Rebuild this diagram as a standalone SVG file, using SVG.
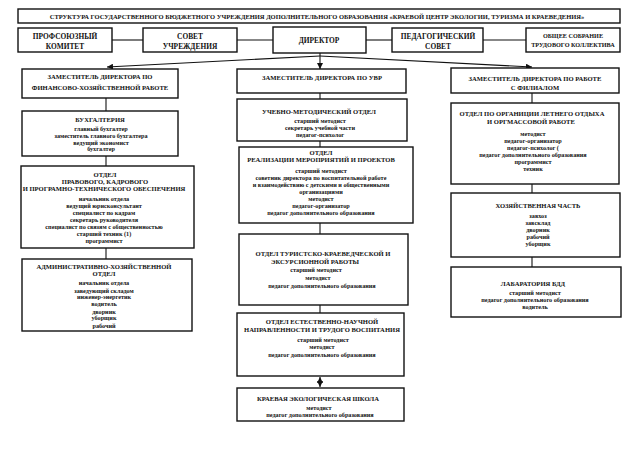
<svg xmlns="http://www.w3.org/2000/svg" width="640" height="453" viewBox="0 0 640 453">
<defs>
<style>
.b{fill:#fff;stroke:#111;stroke-width:1.4}
text{font-family:"Liberation Serif","Times New Roman",serif;font-weight:bold;fill:#111;text-anchor:middle}
.h{font-size:6.6px}
.s{font-size:6.2px}
.t{font-size:7.4px}
.c{stroke:#111;stroke-width:1.1;fill:none}
</style>
<marker id="a" markerUnits="userSpaceOnUse" markerWidth="7" markerHeight="6" refX="6" refY="3" orient="auto"><path d="M0,0 L6,3 L0,6 z" fill="#111"/></marker>
<marker id="as" markerUnits="userSpaceOnUse" markerWidth="7" markerHeight="6" refX="0" refY="3" orient="auto"><path d="M6,0 L0,3 L6,6 z" fill="#111"/></marker>
</defs>
<rect width="640" height="453" fill="#fff"/>
<g id="connectors">
<line class="c" x1="112" y1="40" x2="143" y2="40"/>
<line class="c" x1="237" y1="40" x2="273" y2="40"/>
<line class="c" x1="366" y1="40" x2="392" y2="40"/>
<line class="c" x1="483" y1="40" x2="526" y2="40"/>
<line class="c" x1="320" y1="53" x2="320" y2="69" marker-end="url(#a)"/>
<line class="c" x1="320" y1="56" x2="107" y2="67" marker-end="url(#a)"/>
<line class="c" x1="320" y1="56" x2="532" y2="67" marker-end="url(#a)"/>
<line class="c" x1="106" y1="98" x2="106" y2="111"/>
<line class="c" x1="106" y1="156" x2="106" y2="166"/>
<line class="c" x1="106" y1="248" x2="106" y2="259"/>
<line class="c" x1="320" y1="93" x2="320" y2="99"/>
<line class="c" x1="320" y1="141" x2="320" y2="147"/>
<line class="c" x1="320" y1="223" x2="320" y2="234"/>
<line class="c" x1="320" y1="305" x2="320" y2="313"/>
<line class="c" x1="320" y1="377" x2="320" y2="387" marker-start="url(#as)" marker-end="url(#a)"/>
<line class="c" x1="532" y1="93" x2="532" y2="103"/>
<line class="c" x1="532" y1="184" x2="532" y2="193"/>
<line class="c" x1="532" y1="257" x2="532" y2="267"/>
</g>
<g id="title">
<rect class="b" x="18" y="9" width="602" height="14"/>
<text x="317" y="18.5" style="font-size:6.5px">СТРУКТУРА ГОСУДАРСТВЕННОГО БЮДЖЕТНОГО УЧРЕЖДЕНИЯ ДОПОЛНИТЕЛЬНОГО ОБРАЗОВАНИЯ «КРАЕВОЙ ЦЕНТР ЭКОЛОГИИ, ТУРИЗМА И КРАЕВЕДЕНИЯ»</text>
</g>
<g id="prof">
<rect class="b" x="18" y="28" width="94" height="24"/>
<text class="t" x="65" y="38.5">ПРОФСОЮЗНЫЙ</text>
<text class="t" x="65" y="49">КОМИТЕТ</text>
</g>
<g id="sovet">
<rect class="b" x="143" y="28" width="94" height="24"/>
<text class="t" x="190" y="38.5">СОВЕТ</text>
<text class="t" x="190" y="48.5">УЧРЕЖДЕНИЯ</text>
</g>
<g id="director">
<rect class="b" x="273" y="27" width="93" height="26"/>
<text class="t" x="319" y="42.5">ДИРЕКТОР</text>
</g>
<g id="pedsovet">
<rect class="b" x="392" y="28" width="91" height="24"/>
<text class="t" x="438" y="38.5">ПЕДАГОГИЧЕСКИЙ</text>
<text class="t" x="438" y="49">СОВЕТ</text>
</g>
<g id="obshee">
<rect class="b" x="526" y="28" width="94" height="24"/>
<text x="573" y="38" style="font-size:6.2px">ОБЩЕЕ СОБРАНИЕ</text>
<text x="573" y="46.5" style="font-size:6.2px">ТРУДОВОГО КОЛЛЕКТИВА</text>
</g>
<g id="zamfin">
<rect class="b" x="22" y="69" width="156" height="29"/>
<text class="h" x="100" y="79">ЗАМЕСТИТЕЛЬ ДИРЕКТОРА ПО</text>
<text class="h" x="100" y="90">ФИНАНСОВО-ХОЗЯЙСТВЕННОЙ РАБОТЕ</text>
</g>
<g id="bukh">
<rect class="b" x="22" y="111" width="156" height="45"/>
<text class="h" x="100" y="122">БУХГАЛТЕРИЯ</text>
<text class="s" x="101" y="131">главный бухгалтер</text>
<text class="s" x="101" y="137.5">заместитель главного бухгалтера</text>
<text class="s" x="101" y="144.5">ведущий экономист</text>
<text class="s" x="101" y="151">бухгалтер</text>
</g>
<g id="pravo">
<rect class="b" x="21" y="166" width="173" height="82"/>
<text class="h" x="105" y="177">ОТДЕЛ</text>
<text class="h" x="105" y="184">ПРАВОВОГО, КАДРОВОГО</text>
<text class="h" x="104" y="191">И ПРОГРАМНО-ТЕХНИЧЕСКОГО ОБЕСПЕЧЕНИЯ</text>
<text class="s" x="104" y="201">начальник  отдела</text>
<text class="s" x="104" y="208">ведущий юрисконсультант</text>
<text class="s" x="104" y="215">специалист по кадрам</text>
<text class="s" x="104" y="221.5">секретарь руководителя</text>
<text class="s" x="104" y="229">специалист по связям с общественностью</text>
<text class="s" x="104" y="236">старший техник (1)</text>
<text class="s" x="104" y="243">программист</text>
</g>
<g id="admin">
<rect class="b" x="22" y="259" width="170" height="72"/>
<text class="h" x="104" y="269">АДМИНИСТРАТИВНО-ХОЗЯЙСТВЕННОЙ</text>
<text class="h" x="104" y="276">ОТДЕЛ</text>
<text class="s" x="104" y="285">начальник отдела</text>
<text class="s" x="104" y="292.5">заведующий складом</text>
<text class="s" x="104" y="299">инженер-энергетик</text>
<text class="s" x="104" y="306">водитель</text>
<text class="s" x="104" y="313.5">дворник</text>
<text class="s" x="104" y="320">уборщик</text>
<text class="s" x="104" y="327.5">рабочий</text>
</g>
<g id="uvr">
<rect class="b" x="237" y="69" width="169" height="24"/>
<text class="h" x="322" y="80">ЗАМЕСТИТЕЛЬ ДИРЕКТОРА ПО УВР</text>
</g>
<g id="ucheb">
<rect class="b" x="237" y="99" width="170" height="42"/>
<text class="h" x="319" y="114">УЧЕБНО-МЕТОДИЧЕСКИЙ ОТДЕЛ</text>
<text class="s" x="320" y="123">старший методист</text>
<text class="s" x="320" y="130">секретарь учебной части</text>
<text class="s" x="320" y="137">педагог-психолог</text>
</g>
<g id="realiz">
<rect class="b" x="239" y="147" width="174" height="76"/>
<text class="h" x="321" y="155">ОТДЕЛ</text>
<text class="h" x="321" y="162">РЕАЛИЗАЦИИ МЕРОПРИЯТИЙ И ПРОЕКТОВ</text>
<text class="s" x="321" y="173">старший методист</text>
<text class="s" x="321" y="180">советник директора по воспитательной работе</text>
<text class="s" x="321" y="186.5">и взаимодействию с детскими и общественными</text>
<text class="s" x="321" y="194">организациями</text>
<text class="s" x="321" y="200.5">методист</text>
<text class="s" x="321" y="208">педагог-организатор</text>
<text class="s" x="321" y="215">педагог дополнительного образования</text>
</g>
<g id="turist">
<rect class="b" x="239" y="234" width="169" height="71"/>
<text class="h" x="323" y="256">ОТДЕЛ ТУРИСТСКО-КРАЕВЕДЧЕСКОЙ И</text>
<text class="h" x="315" y="263.5">ЭКСУРСИОННОЙ РАБОТЫ</text>
<text class="s" x="316" y="272">старший методист</text>
<text class="s" x="318" y="279.5">методист</text>
<text class="s" x="322" y="288">педагог дополнительного образования</text>
</g>
<g id="estestv">
<rect class="b" x="237" y="313" width="167" height="63"/>
<text class="h" x="322" y="324">ОТДЕЛ ЕСТЕСТВЕННО-НАУЧНОЙ</text>
<text class="h" x="322" y="332">НАПРАВЛЕННОСТИ И ТРУДОГО ВОСПИТАНИЯ</text>
<text class="s" x="323" y="342">старший методист</text>
<text class="s" x="322" y="349">методист</text>
<text class="s" x="322" y="357">педагог дополнительного образования</text>
</g>
<g id="kraev">
<rect class="b" x="237" y="388" width="167" height="33"/>
<text class="h" x="318" y="401">КРАЕВАЯ ЭКОЛОГИЧЕСКАЯ ШКОЛА</text>
<text class="s" x="319" y="410">методист</text>
<text class="s" x="320" y="417">педагог дополнительного образования</text>
</g>
<g id="filial">
<rect class="b" x="451" y="68" width="168" height="25"/>
<text class="h" x="535" y="81">ЗАМЕСТИТЕЛЬ ДИРЕКТОРА ПО РАБОТЕ</text>
<text class="h" x="535" y="90">С ФИЛИАЛОМ</text>
</g>
<g id="org">
<rect class="b" x="451" y="103" width="168" height="81"/>
<text class="h" x="532" y="116">ОТДЕЛ ПО ОРГАНИЦИИ ЛЕТНЕГО ОТДЫХА</text>
<text class="h" x="531" y="124">И ОРГМАССОВОЙ РАБОТЕ</text>
<text class="s" x="533" y="136">методист</text>
<text class="s" x="533" y="143">педагог-организатор</text>
<text class="s" x="533" y="150">педагог-психолог (</text>
<text class="s" x="533" y="157">педагог дополнительного образования</text>
<text class="s" x="533" y="164">программист</text>
<text class="s" x="533" y="170.5">техник</text>
</g>
<g id="hoz">
<rect class="b" x="451" y="193" width="169" height="64"/>
<text class="h" x="538" y="208">ХОЗЯЙСТВЕННАЯ ЧАСТЬ</text>
<text class="s" x="538" y="218">завхоз</text>
<text class="s" x="538" y="225">завсклад</text>
<text class="s" x="538" y="231.5">дворник</text>
<text class="s" x="538" y="239">рабочий</text>
<text class="s" x="538" y="245.5">уборщик</text>
</g>
<g id="lab">
<rect class="b" x="451" y="267" width="170" height="50"/>
<text class="h" x="533" y="286">ЛАБАРАТОРИЯ БДД</text>
<text class="s" x="535" y="295">старший методист</text>
<text class="s" x="535" y="302">педагог дополнительного образования</text>
<text class="s" x="535" y="309">водитель</text>
</g>
</svg>
